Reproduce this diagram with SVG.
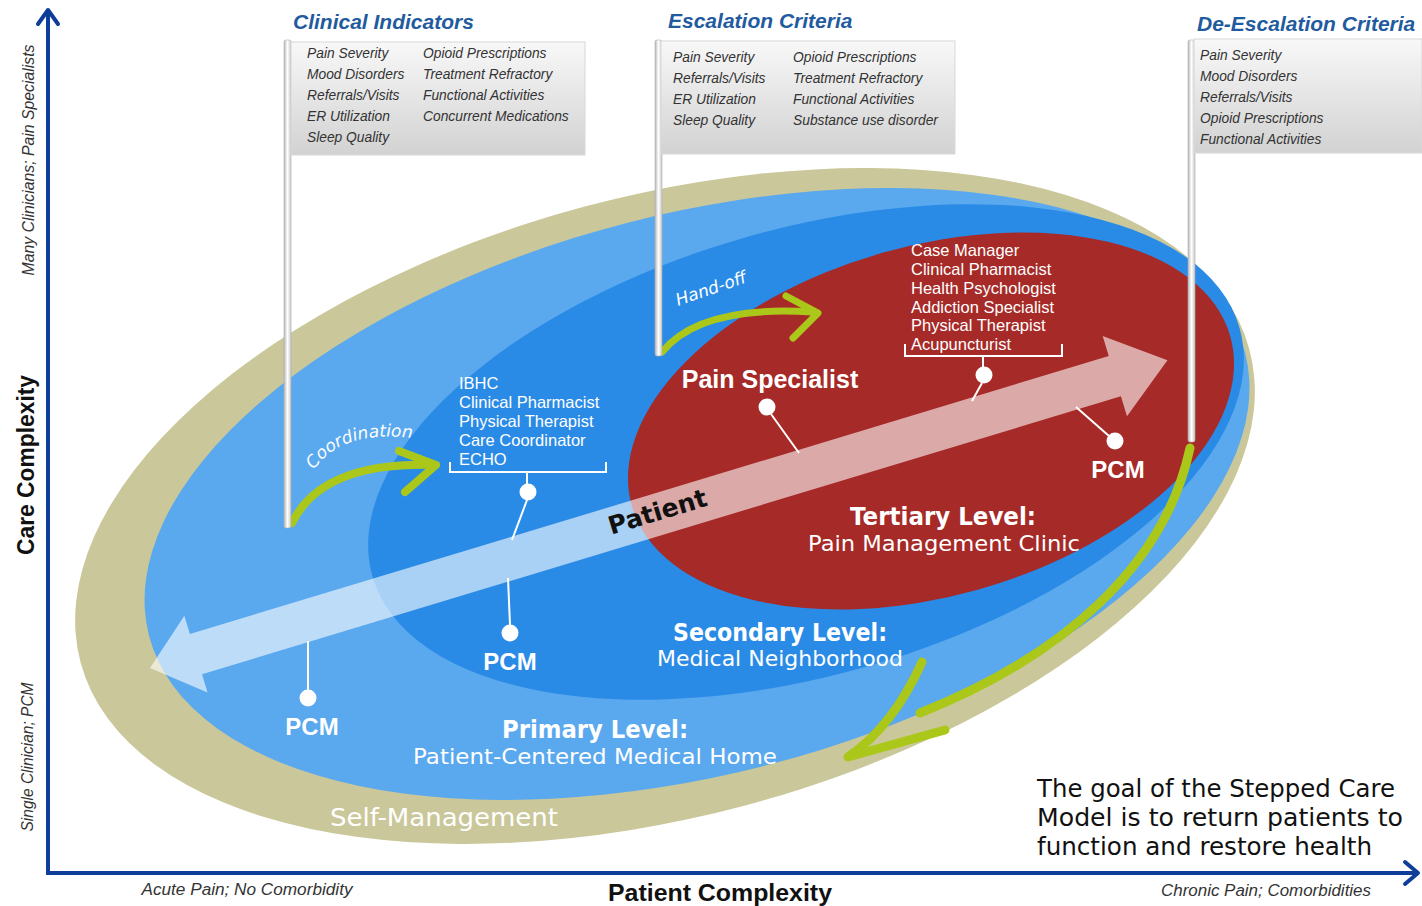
<svg xmlns="http://www.w3.org/2000/svg" width="1422" height="906" viewBox="0 0 1422 906">
<defs>
<linearGradient id="boxg" x1="0" y1="0" x2="0" y2="1">
<stop offset="0" stop-color="#F8F8F8"/><stop offset="1" stop-color="#D2D2D2"/>
</linearGradient>
<linearGradient id="poleg" x1="0" y1="0" x2="1" y2="0">
<stop offset="0" stop-color="#B8B8B8"/><stop offset="0.5" stop-color="#FFFFFF"/><stop offset="1" stop-color="#C8C8C8"/>
</linearGradient>
<path id="coordPath" d="M 314 470 Q 343 426 424 440"/>
<style>
.ti{font-family:"Liberation Sans",Arial,sans-serif;font-style:italic;font-weight:bold;font-size:21px;fill:#1F5B9E}
.it{font-family:"Liberation Sans",Arial,sans-serif;font-style:italic;font-size:13.8px;fill:#333}
.team{font-family:"Liberation Sans",Arial,sans-serif;font-size:16.5px;fill:#fff}
.pcm{font-family:"Liberation Sans",Arial,sans-serif;font-weight:bold;font-size:24px;fill:#fff;text-anchor:middle}
.hw{font-family:"DejaVu Sans",sans-serif;fill:#fff}
.goal{font-family:"DejaVu Sans",sans-serif;fill:#111;font-size:24px}
.ax{font-family:"Liberation Sans",Arial,sans-serif;font-style:italic;font-size:16px;fill:#333}
.axb{font-family:"Liberation Sans",Arial,sans-serif;font-weight:bold;font-size:24px;fill:#111}
.box{fill:url(#boxg);stroke:#D8D8D8;stroke-width:1}
.pole{fill:url(#poleg);stroke:#AFAFAF;stroke-width:0.6}
.grn{fill:none;stroke:#ABC81A;stroke-linecap:round;stroke-linejoin:round}
.wl{stroke:#fff;stroke-width:2;fill:none}
.dot{fill:#fff}
</style>
</defs>

<g id="levels">
<ellipse id="self-management" cx="665" cy="506" rx="605" ry="310" transform="rotate(-15 665 506)" fill="#CAC79A"/>
<ellipse id="primary" cx="697" cy="494" rx="566" ry="280" transform="rotate(-14.5 697 494)" fill="#5AA8EE"/>
<ellipse id="secondary" cx="806" cy="452" rx="451" ry="223" transform="rotate(-16 806 452)" fill="#2A8BE6"/>
<ellipse id="tertiary" cx="931" cy="421" rx="311" ry="175" transform="rotate(-15.8 931 421)" fill="#A62A27"/>
</g>

<g id="patient-arrow">
<polygon transform="translate(150 668) rotate(-16.83)" points="0,0 48,-40 48,-21 1008,-21 1008,-42 1063,0 1008,42 1008,21 48,21 48,40" fill="#fff" fill-opacity="0.6"/>
<text transform="translate(660 520) rotate(-16.8)" text-anchor="middle" font-family="DejaVu Sans,sans-serif" font-weight="bold" font-size="25" fill="#111">Patient</text>
</g>

<g id="connectors">
<path class="wl" d="M 308 690 V 641"/>
<path class="wl" d="M 510 625 L 508 578"/>
<path class="wl" d="M 450 462 V 472 H 606 V 462 M 527 472 V 484"/>
<path class="wl" d="M 527 500 L 512 540"/>
<path class="wl" d="M 771 414 L 799 453"/>
<path class="wl" d="M 905 344 V 356 H 1062 V 344 M 983 356 V 367"/>
<path class="wl" d="M 982 383 L 972 401"/>
<path class="wl" d="M 1109 436 L 1076 407"/>
<path class="grn" stroke-width="8" d="M 292 523 Q 322 462 432 465"/>
<path class="grn" stroke-width="8" d="M 399 451 L 436 465 L 405 492"/>
<path class="grn" stroke-width="7" d="M 662 352 Q 700 305 812 312"/>
<path class="grn" stroke-width="7" d="M 786 296 L 818 313 L 793 338"/>
<path class="grn" stroke-width="9" d="M 1190 448 C 1165 565 1065 655 920 713"/>
<path class="grn" stroke-width="9" d="M 922 662 C 905 700 880 735 848 757 L 945 730"/>
</g>

<g id="clinical-indicators">
<rect class="pole" x="284" y="40" width="7" height="488" rx="2"/>
<rect class="box" x="291" y="42" width="294" height="113"/>
<text class="ti" x="293" y="29">Clinical Indicators</text>
<text class="it" x="307" y="58">Pain Severity</text>
<text class="it" x="307" y="79">Mood Disorders</text>
<text class="it" x="307" y="100">Referrals/Visits</text>
<text class="it" x="307" y="121">ER Utilization</text>
<text class="it" x="307" y="142">Sleep Quality</text>
<text class="it" x="423" y="58">Opioid Prescriptions</text>
<text class="it" x="423" y="79">Treatment Refractory</text>
<text class="it" x="423" y="100">Functional Activities</text>
<text class="it" x="423" y="121">Concurrent Medications</text>
</g>

<g id="escalation-criteria">
<rect class="pole" x="655" y="40" width="7" height="316" rx="2"/>
<rect class="box" x="661" y="41" width="294" height="113"/>
<text class="ti" x="668" y="28">Escalation Criteria</text>
<text class="it" x="673" y="62">Pain Severity</text>
<text class="it" x="673" y="83">Referrals/Visits</text>
<text class="it" x="673" y="104">ER Utilization</text>
<text class="it" x="673" y="125">Sleep Quality</text>
<text class="it" x="793" y="62">Opioid Prescriptions</text>
<text class="it" x="793" y="83">Treatment Refractory</text>
<text class="it" x="793" y="104">Functional Activities</text>
<text class="it" x="793" y="125">Substance use disorder</text>
</g>

<g id="de-escalation-criteria">
<rect class="pole" x="1188" y="40" width="7" height="402" rx="2"/>
<rect class="box" x="1194" y="39" width="228" height="114"/>
<text class="ti" x="1197" y="31">De-Escalation Criteria</text>
<text class="it" x="1200" y="60">Pain Severity</text>
<text class="it" x="1200" y="81">Mood Disorders</text>
<text class="it" x="1200" y="102">Referrals/Visits</text>
<text class="it" x="1200" y="123">Opioid Prescriptions</text>
<text class="it" x="1200" y="144">Functional Activities</text>
</g>

<g id="coordination">
<text class="hw" font-size="17" font-style="italic"><textPath href="#coordPath">Coordination</textPath></text>
</g>

<g id="hand-off">
<text class="hw" font-size="17" font-style="italic" transform="translate(678 306) rotate(-19)">Hand-off</text>
</g>

<g id="secondary-team">
<text class="team" x="459" y="389">IBHC</text>
<text class="team" x="459" y="408">Clinical Pharmacist</text>
<text class="team" x="459" y="427">Physical Therapist</text>
<text class="team" x="459" y="446">Care Coordinator</text>
<text class="team" x="459" y="465">ECHO</text>
<circle class="dot" cx="528" cy="492" r="8.5"/>
</g>

<g id="tertiary-team">
<text class="team" x="911" y="256">Case Manager</text>
<text class="team" x="911" y="275">Clinical Pharmacist</text>
<text class="team" x="911" y="294">Health  Psychologist</text>
<text class="team" x="911" y="313">Addiction  Specialist</text>
<text class="team" x="911" y="331">Physical Therapist</text>
<text class="team" x="911" y="350">Acupuncturist</text>
<circle class="dot" cx="984" cy="375" r="8.5"/>
</g>

<g id="pain-specialist">
<text class="pcm" x="770" y="388" font-size="25" style="font-size:25px">Pain Specialist</text>
<circle class="dot" cx="767" cy="407" r="8.5"/>
</g>

<g id="pcm-primary">
<circle class="dot" cx="308" cy="698" r="8.5"/>
<text class="pcm" x="312" y="735">PCM</text>
</g>
<g id="pcm-secondary">
<circle class="dot" cx="510" cy="633" r="8.5"/>
<text class="pcm" x="510" y="670">PCM</text>
</g>
<g id="pcm-tertiary">
<circle class="dot" cx="1115" cy="441" r="8.5"/>
<text class="pcm" x="1118" y="478">PCM</text>
</g>

<g id="level-labels">
<text class="hw" font-size="24" font-weight="600" x="850" y="525" textLength="186" lengthAdjust="spacingAndGlyphs">Tertiary Level:</text>
<text class="hw" font-size="22" x="808" y="551" textLength="272" lengthAdjust="spacingAndGlyphs">Pain Management Clinic</text>
<text class="hw" font-size="24" font-weight="600" x="673" y="641" textLength="214" lengthAdjust="spacingAndGlyphs">Secondary Level:</text>
<text class="hw" font-size="22" x="657" y="666" textLength="246" lengthAdjust="spacingAndGlyphs">Medical Neighborhood</text>
<text class="hw" font-size="24" font-weight="600" x="502" y="738" textLength="186" lengthAdjust="spacingAndGlyphs">Primary Level:</text>
<text class="hw" font-size="22" x="413" y="764" textLength="364" lengthAdjust="spacingAndGlyphs">Patient-Centered Medical Home</text>
<text class="hw" font-size="24" x="330" y="826" textLength="228" lengthAdjust="spacingAndGlyphs" fill="#F3F2E4">Self-Management</text>
</g>

<g id="goal">
<text class="goal" x="1037" y="797" textLength="358" lengthAdjust="spacingAndGlyphs">The goal of the Stepped Care</text>
<text class="goal" x="1037" y="826" textLength="366" lengthAdjust="spacingAndGlyphs">Model is to return patients to</text>
<text class="goal" x="1037" y="855" textLength="335" lengthAdjust="spacingAndGlyphs">function and restore health</text>
</g>

<g id="axes">
<path d="M 48 874 V 10" stroke="#0F3E9A" stroke-width="4" fill="none"/>
<path d="M 38 24 L 48 10 L 58 24" stroke="#0F3E9A" stroke-width="4" fill="none" stroke-linecap="round" stroke-linejoin="round"/>
<path d="M 46 873 H 1417" stroke="#0F3E9A" stroke-width="4" fill="none"/>
<path d="M 1405 862 L 1418 873 L 1405 884" stroke="#0F3E9A" stroke-width="4" fill="none" stroke-linecap="round" stroke-linejoin="round"/>
<text class="axb" transform="translate(34 465) rotate(-90)" text-anchor="middle" textLength="180" lengthAdjust="spacingAndGlyphs">Care Complexity</text>
<text class="ax" transform="translate(34 160) rotate(-90)" text-anchor="middle" textLength="231" lengthAdjust="spacingAndGlyphs">Many Clinicians; Pain Specialists</text>
<text class="ax" transform="translate(33 757) rotate(-90)" text-anchor="middle" textLength="149" lengthAdjust="spacingAndGlyphs">Single Clinician; PCM</text>
<text class="axb" x="720" y="901" text-anchor="middle" textLength="224" lengthAdjust="spacingAndGlyphs">Patient Complexity</text>
<text class="ax" x="247" y="895" text-anchor="middle" textLength="211" lengthAdjust="spacingAndGlyphs">Acute Pain; No Comorbidity</text>
<text class="ax" x="1266" y="896" text-anchor="middle" textLength="210" lengthAdjust="spacingAndGlyphs">Chronic Pain; Comorbidities</text>
</g>
</svg>
